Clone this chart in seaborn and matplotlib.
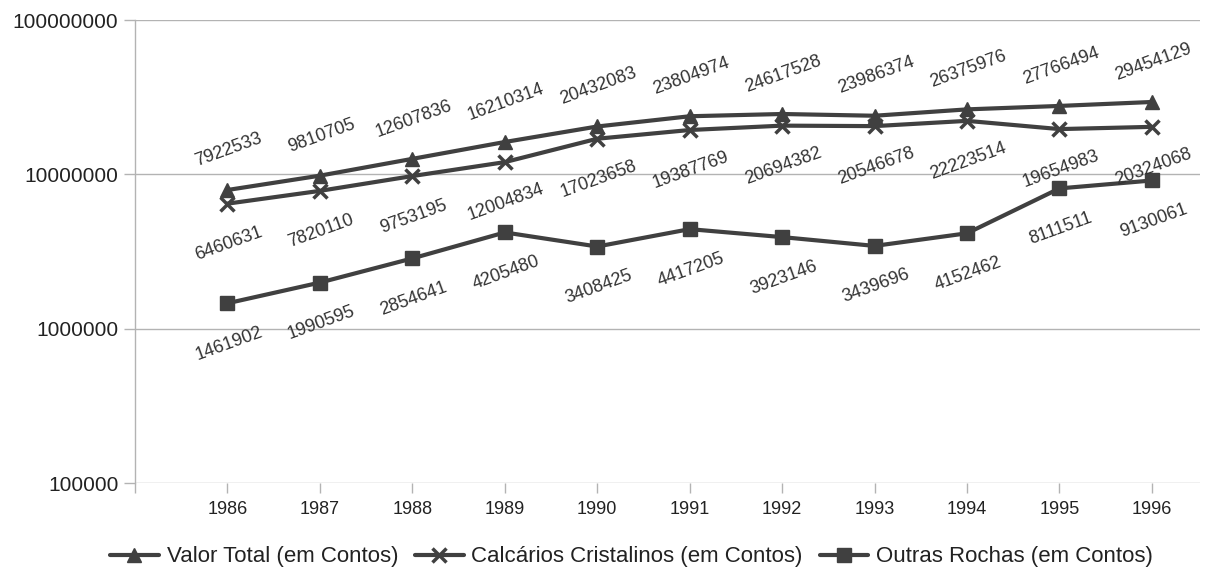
import matplotlib
matplotlib.use("Agg")
import matplotlib.pyplot as plt
import seaborn as sns
import pandas as pd

# Annual values (contos), 1986-1996
anos = [1986, 1987, 1988, 1989, 1990, 1991, 1992, 1993, 1994, 1995, 1996]
valor_total = [7922533, 9810705, 12607836, 16210314, 20432083, 23804974,
               24617528, 23986374, 26375976, 27766494, 29454129]
calcarios = [6460631, 7820110, 9753195, 12004834, 17023658, 19387769,
             20694382, 20546678, 22223514, 19654983, 20324068]
outras = [1461902, 1990595, 2854641, 4205480, 3408425, 4417205,
          3923146, 3439696, 4152462, 8111511, 9130061]

series_names = ["Valor Total (em Contos)",
                "Calcários Cristalinos (em Contos)",
                "Outras Rochas (em Contos)"]
y_ticks = [100000, 1000000, 10000000, 100000000]

sns.set_theme(style="white")
plt.rcParams["font.family"] = ["Liberation Sans", "DejaVu Sans"]

ink = "#404040"
grid_c = "#b3b3b3"

fig = plt.figure(figsize=(12.32, 5.73), dpi=100)
ax = fig.add_axes([0.1096, 0.157, 0.8644, 0.808])

series = [
    (series_names[0], valor_total, "^", 10, 1, 29),
    (series_names[1], calcarios, "x", 10, 2.5, -29),
    (series_names[2], outras, "s", 10, 1, -29),
]

for name, vals, mk, ms, mew, off in series:
    df = pd.DataFrame({"Ano": anos, "Valor": vals})
    sns.lineplot(data=df, x="Ano", y="Valor", ax=ax, color=ink, linewidth=3,
                 marker=mk, markersize=ms, markeredgewidth=mew,
                 markeredgecolor=ink, markerfacecolor=ink, label=name)
    for x, v in zip(anos, vals):
        ax.annotate(str(v), (x, v), xytext=(1, off), textcoords="offset points",
                    rotation=20, rotation_mode="anchor", ha="center", va="center",
                    fontsize=13, color="#333333")

ax.set_yscale("log")
ax.set_ylim(1e5, 1e8)
ax.set_xlim(1985, 1996.52)
ax.set_yticks(y_ticks)
ax.set_yticklabels([str(t) for t in y_ticks], fontsize=15, color="#222222")
ax.yaxis.set_minor_locator(matplotlib.ticker.NullLocator())
ax.set_xticks([1985] + anos)
ax.set_xticklabels([""] + [str(a) for a in anos], fontsize=13, color="#222222")
ax.set_xlabel("")
ax.set_ylabel("")

ax.grid(axis="y", color=grid_c, linewidth=1)
ax.grid(axis="x", visible=False)
for s in ["top", "right", "bottom"]:
    ax.spines[s].set_visible(False)
ax.spines["left"].set_color(grid_c)
ax.spines["left"].set_linewidth(1)
ax.tick_params(axis="y", length=8, width=1, color=grid_c, pad=4, left=True)
ax.tick_params(axis="x", length=7, width=1, color=grid_c, pad=6, bottom=True)

handles, labels = ax.get_legend_handles_labels()
if ax.get_legend() is not None:
    ax.get_legend().remove()
fig.legend(handles, labels, loc="center", bbox_to_anchor=(0.5126, 0.028), ncol=3,
           frameon=False, fontsize=16, handlelength=2.2, handletextpad=0.35,
           columnspacing=0.75, labelcolor="#222222")

fig.savefig("out.png", dpi=100, facecolor="white")
